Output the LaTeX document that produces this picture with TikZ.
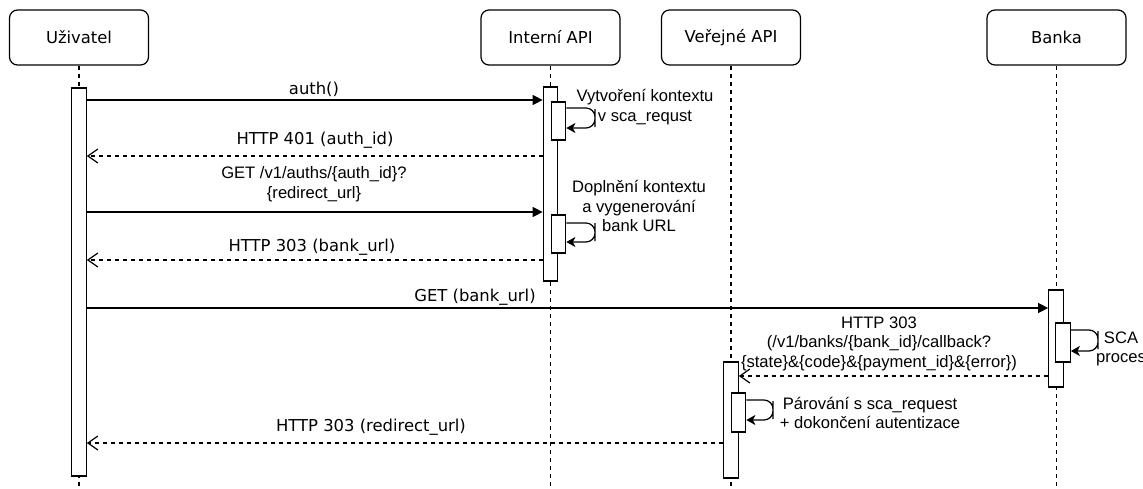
\documentclass[tikz,border=0pt]{standalone}
\usepackage{fontspec}
\setmainfont{Liberation Sans}
\newfontfamily\dejavu{DejaVu Sans}
\usetikzlibrary{arrows.meta}

\tikzset{
  hdr/.style={draw, rounded corners=8pt, line width=1.2pt, fill=white,
    minimum width=139pt, minimum height=55pt, inner sep=0pt,
    font=\dejavu\fontsize{16.4}{19.5}\selectfont},
  lifeline/.style={line width=1.2pt, dash pattern=on 4pt off 4pt},
  act/.style={draw, fill=white, line width=1.2pt, minimum width=14.5pt, inner sep=0pt},
  msg/.style={line width=1.2pt, -{Triangle[length=10pt,width=10pt]}},
  reply/.style={line width=1.2pt, dash pattern=on 4pt off 4pt,
    -{Straight Barb[length=10pt,width=14pt,line width=1.2pt]}},
  selfmsg/.style={line width=1.2pt, rounded corners=9pt,
    -{Stealth[length=9pt,width=10pt,inset=2.5pt]}},
  lbl/.style={inner sep=0pt, font=\dejavu\fontsize{16.4}{19.5}\selectfont},
  note/.style={inner sep=0pt, align=center, font=\fontsize{16.6}{19.5}\selectfont},
}

\begin{document}
\begin{tikzpicture}[x=1pt, y=-1pt]
\useasboundingbox (0,0) rectangle (1143,488);
\clip (0,0) rectangle (1143,488);
\fill[white] (0,0) rectangle (1143,488);

% participants
\node[hdr] (u) at (79,37.5)   {Uživatel};
\node[hdr] (i) at (550.5,37.5) {Interní API};
\node[hdr] (v) at (731,37.5)  {Veřejné API};
\node[hdr] (b) at (1056.5,37.5) {Banka};

% lifeline ends
\coordinate (uEnd) at (79,490);
\coordinate (iEnd) at (550.5,490);
\coordinate (vEnd) at (731,490);
\coordinate (bEnd) at (1056.5,490);

\draw[lifeline] (u.south) -- (uEnd);
\draw[lifeline] (i.south) -- (iEnd);
\draw[lifeline] (v.south) -- (vEnd);
\draw[lifeline] (b.south) -- (bEnd);

% activations
\node[act, minimum height=388pt] (aU) at (79,282) {};
\node[act, minimum height=194pt] (aI) at (550.5,184) {};
\node[act, minimum height=38pt]  (nI1) at (558.5,121) {};
\node[act, minimum height=38pt]  (nI2) at (558.5,234) {};
\node[act, minimum height=97pt]  (aB) at (1056,338.5) {};
\node[act, minimum height=39pt]  (nB) at (1063,342.5) {};
\node[act, minimum height=116pt] (aV) at (731,420) {};
\node[act, minimum height=39pt]  (nV) at (738.5,412.5) {};

% messages
\draw[msg] (aU.east |- 0,100) -- (aI.west |- 0,100);
\node[lbl] (l1) at (314,89) {auth()};

\draw[reply] (aI.west |- 0,156) -- (aU.east |- 0,156);
\node[lbl] (l2) at (315,140) {HTTP 401 (auth\_id)};

\draw[msg] (aU.east |- 0,212) -- (aI.west |- 0,212);
\node[note] (l3) at (314,184) {GET /v1/auths/\{auth\_id\}?\\\{redirect\_url\}};

\draw[reply] (aI.west |- 0,260) -- (aU.east |- 0,260);
\node[lbl] (l4) at (312,247) {HTTP 303 (bank\_url)};

\draw[msg] (aU.east |- 0,308) -- (aB.west |- 0,308);
\node[lbl] (l5) at (475,297) {GET (bank\_url)};

\draw[reply] (aB.west |- 0,376) -- (aV.east |- 0,376);
\node[note] (l6) at (879,343.5) {HTTP 303\\(/v1/banks/\{bank\_id\}/callback?\\\{state\}\&\{code\}\&\{payment\_id\}\&\{error\})};

\draw[reply] (aV.west |- 0,443) -- (aU.east |- 0,443);
\node[lbl] (l7) at (371,427) {HTTP 303 (redirect\_url)};

% self messages
\draw[selfmsg] (nI1.east |- 0,108) -| (595,118) |- (nI1.east |- 0,128);
\node[note] (s1) at (645,107) {Vytvoření kontextu\\v sca\_requst};

\draw[selfmsg] (nI2.east |- 0,223) -| (595,232) |- (nI2.east |- 0,242);
\node[note] (s2) at (639,206) {Doplnění kontextu\\a vygenerování\\bank URL};

\draw[selfmsg] (nB.east |- 0,330) -| (1098,340) |- (nB.east |- 0,351);
\node[note] (s3) at (1121,349) {SCA\\proces};

\draw[selfmsg] (nV.east |- 0,400) -| (773,410) |- (nV.east |- 0,420);
\node[note] (s4) at (870,413) {Párování s sca\_request\\+ dokončení autentizace};
\end{tikzpicture}
\end{document}
